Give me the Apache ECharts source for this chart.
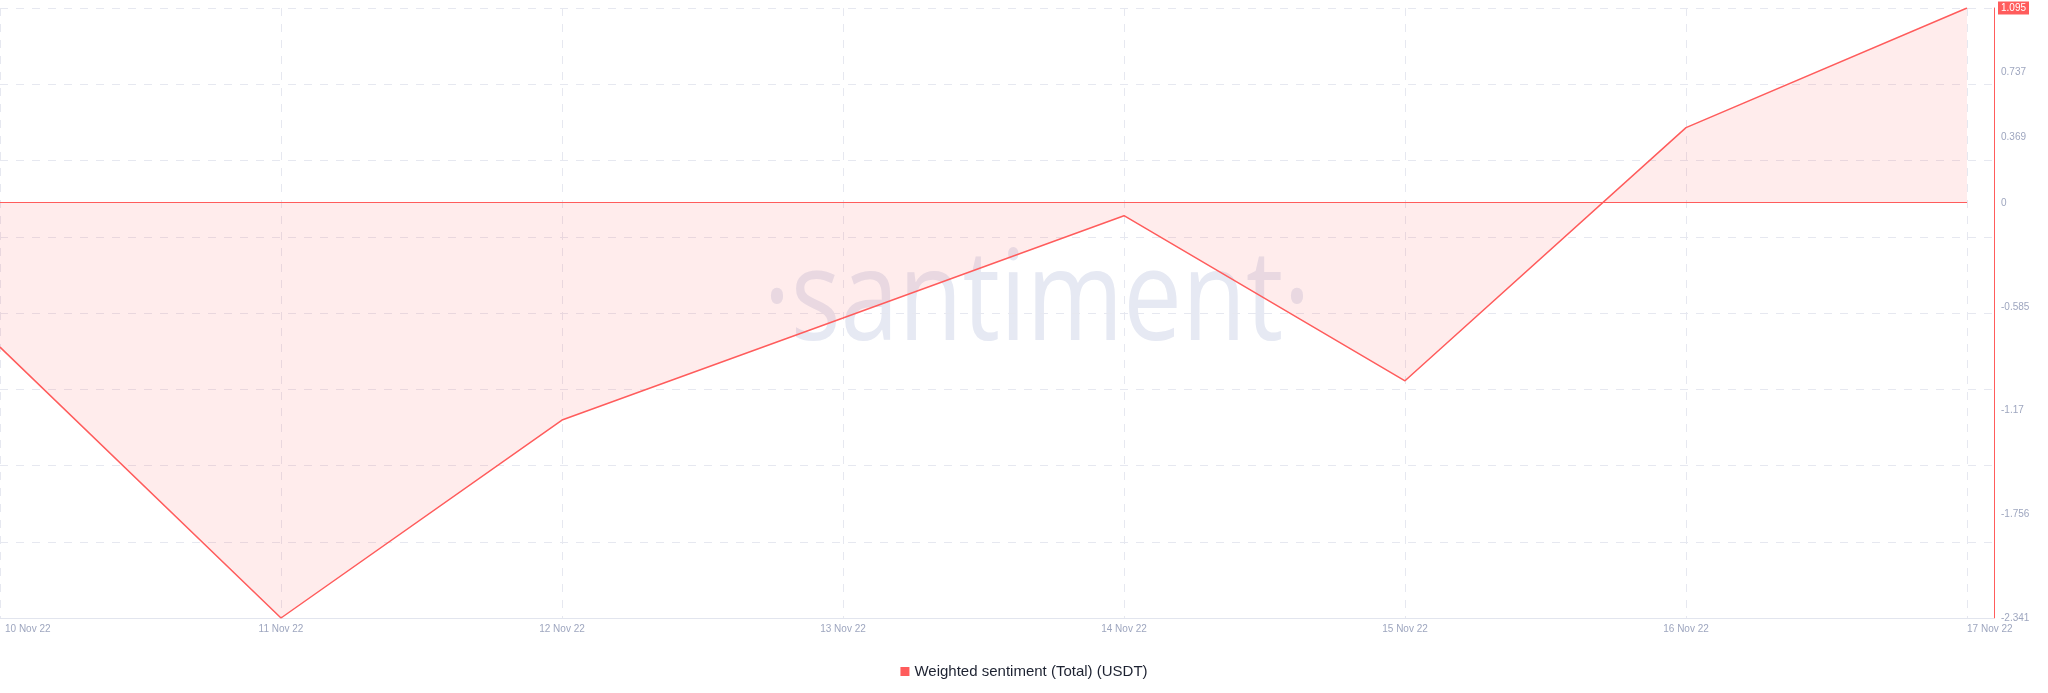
<!DOCTYPE html>
<html>
<head>
<meta charset="utf-8">
<script src="https://cdn.jsdelivr.net/npm/echarts@6/dist/echarts.min.js"></script>
<style>
  html, body { margin: 0; padding: 0; background: #ffffff; }
  #chart { width: 2048px; height: 693px; }
</style>
</head>
<body>
<div id="chart"></div>
<script>
// ---- data ----
const dates = ['10 Nov 22', '11 Nov 22', '12 Nov 22', '13 Nov 22', '14 Nov 22', '15 Nov 22', '16 Nov 22', '17 Nov 22'];
const sentiment = [-0.815, -2.341, -1.226, -0.651, -0.075, -1.005, 0.421, 1.095];
const yTickLabels = [1.095, 0.737, 0.369, 0, -0.585, -1.17, -1.756, -2.341];
const seriesName = 'Weighted sentiment (Total) (USDT)';

const red = '#ff5c5c';
const gridLine = '#e6e8f0';
const labelColor = '#9ea6bf';
const font = 'Liberation Sans, Arial, Helvetica, sans-serif';

const yMin = Math.min(...sentiment);
const yMax = Math.max(...sentiment);
const lastVal = sentiment[sentiment.length - 1];

const points = sentiment.map((v, i) => [i, v]);

const chart = echarts.init(document.getElementById('chart'), null, { renderer: 'canvas' });

chart.setOption({
  animation: false,
  backgroundColor: '#ffffff',
  textStyle: { fontFamily: font },
  grid: { left: 0, right: 54, top: 8, bottom: 75, containLabel: false },
  graphic: [{
    type: 'text',
    x: 1037,
    y: 304,
    scaleX: 0.83,
    z: 0,
    silent: true,
    style: {
      text: '\u00B7santiment\u00B7',
      x: 0, y: 0,
      textAlign: 'center',
      textVerticalAlign: 'middle',
      font: '400 126px "Open Sans", "Noto Sans", sans-serif',
      fill: '#e6e9f3'
    }
  }],
  legend: {
    left: 'center',
    top: 659,
    icon: 'rect',
    itemWidth: 9,
    itemHeight: 9,
    textStyle: { color: '#1d2231', fontSize: 15, fontFamily: font },
    data: [seriesName]
  },
  xAxis: {
    type: 'value',
    min: 0,
    max: 7.096,
    interval: 1,
    axisLine: { show: true, onZero: false, lineStyle: { color: '#e2e5ee', width: 1 } },
    axisTick: { show: false },
    splitLine: { show: true, lineStyle: { color: gridLine, type: [8, 8], width: 1 } },
    axisLabel: {
      customValues: dates.map((d, i) => i),
      color: labelColor,
      fontSize: 10,
      fontFamily: font,
      margin: 6,
      alignMinLabel: 'left',
      alignMaxLabel: 'left',
      formatter: function (v) {
        const i = Math.round(v);
        if (i === 0) return '{first|' + dates[i] + '}';
        return dates[i] || '';
      },
      rich: { first: { padding: [0, 0, 0, 5], color: labelColor, fontSize: 10, fontFamily: font } }
    }
  },
  yAxis: [{
    type: 'value',
    position: 'right',
    min: yMin,
    max: yMax,
    axisLine: { show: true, onZero: false, lineStyle: { color: red, width: 1 } },
    axisTick: { show: false },
    splitLine: { show: false },
    axisLabel: {
      customValues: yTickLabels,
      margin: 4,
      formatter: function (v) {
        return (v === lastVal ? '{hl|' : '{n|') + v + '}';
      },
      rich: {
        n: { color: labelColor, fontSize: 10, fontFamily: font, padding: [2, 3, 1, 3] },
        hl: { color: '#ffffff', backgroundColor: red, fontSize: 10, fontFamily: font, padding: [2, 3, 1, 3] }
      }
    }
  }, {
    type: 'value',
    position: 'left',
    min: 0,
    max: 8,
    interval: 1,
    axisLine: { show: false, onZero: false },
    axisTick: { show: false },
    axisLabel: { show: false },
    splitLine: { show: true, lineStyle: { color: gridLine, type: [8, 8], width: 1 } }
  }],
  series: [{
    name: seriesName,
    type: 'line',
    yAxisIndex: 0,
    data: points,
    symbol: 'none',
    color: red,
    lineStyle: { color: red, width: 1.5 },
    areaStyle: { color: 'rgba(255, 91, 91, 0.17)', origin: 0 },
    z: 3,
    markLine: {
      silent: true,
      symbol: ['none', 'none'],
      label: { show: false },
      lineStyle: { color: red, width: 1.2, type: 'solid' },
      data: [[{ coord: [0, 0] }, { coord: [sentiment.length - 1, 0] }]]
    }
  }]
});
</script>
</body>
</html>
